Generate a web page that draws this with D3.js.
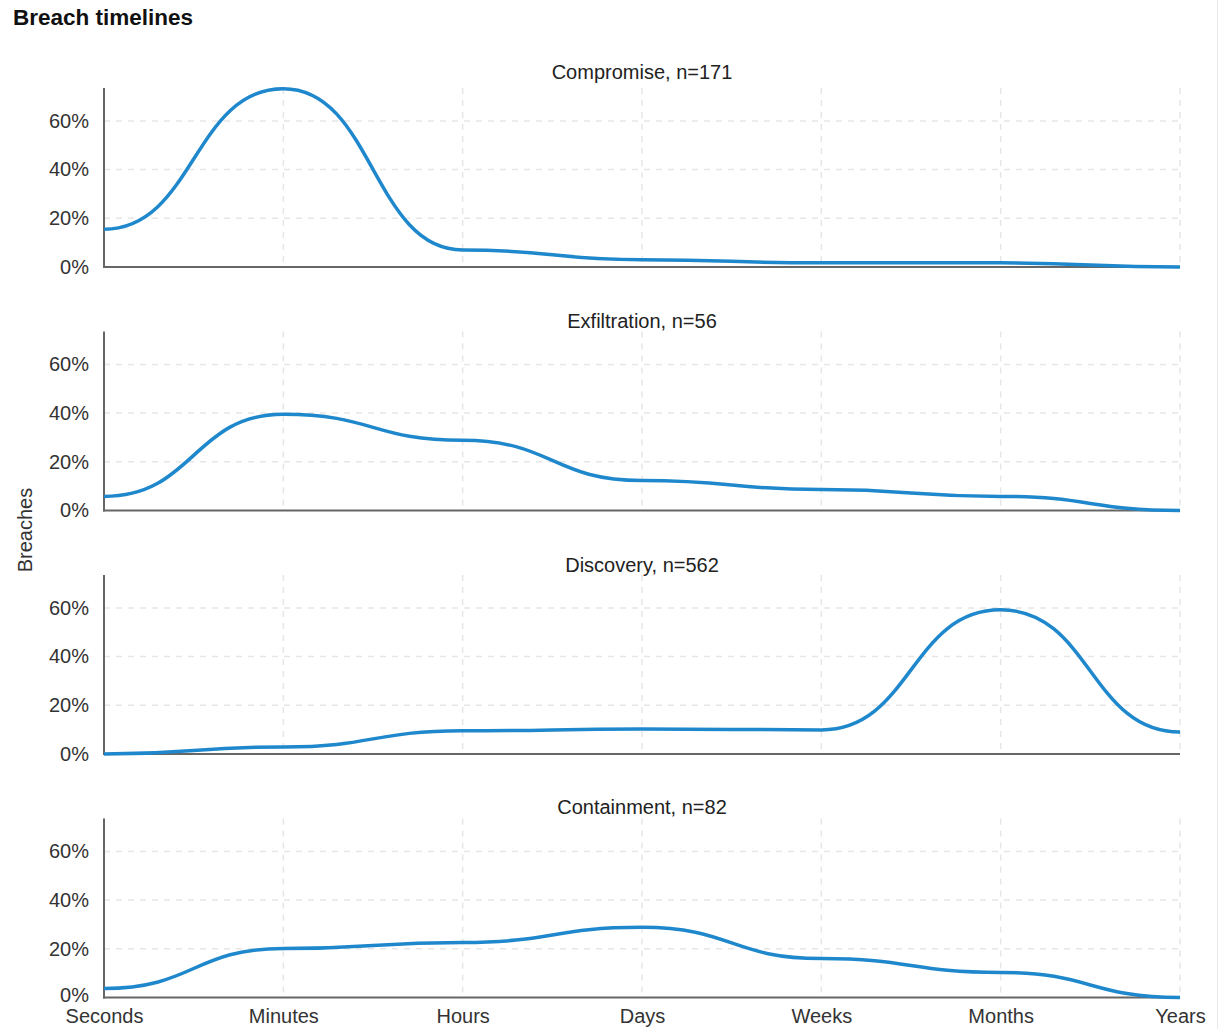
<!DOCTYPE html>
<html><head><meta charset="utf-8">
<script src="https://cdn.jsdelivr.net/npm/d3@7"></script>
<style>body{margin:0;background:#fff}svg{display:block;font-family:"Liberation Sans",Arial,sans-serif}</style>
</head><body><svg id="c" width="1219" height="1029"></svg>
<script>
const categories = ["Seconds","Minutes","Hours","Days","Weeks","Months","Years"];
const panelTitles = ["Compromise, n=171","Exfiltration, n=56","Discovery, n=562","Containment, n=82"];
const compromise   = [0.155, 0.732, 0.07, 0.03, 0.017, 0.017, 0.0];
const exfiltration = [0.058, 0.395, 0.288, 0.123, 0.086, 0.058, 0.0];
const discovery    = [0.0, 0.029, 0.095, 0.103, 0.099, 0.592, 0.09];
const containment  = [0.037, 0.201, 0.226, 0.288, 0.16, 0.103, 0.0];
const yTicks = [0, 0.2, 0.4, 0.6];
const seriesList = [compromise, exfiltration, discovery, containment];

const svg = d3.select("#c");
const left = 104, right = 1180;
const x = d3.scalePoint().domain(categories).range([left, right]);
const panelH = 179, panelStep = 243.5, firstTop = 88;
const titleOffsets = [9, 3.5, 3, 4.5];
const FS = 20;

svg.append("text").attr("x",13).attr("y",25).attr("font-size",22.5).attr("font-weight","bold")
  .attr("fill","#111").text("Breach timelines");

svg.append("text").attr("transform","translate(32,530) rotate(-90)").attr("text-anchor","middle")
  .attr("font-size",FS).attr("fill","#333").text("Breaches");

svg.append("line").attr("x1",1217.5).attr("x2",1217.5).attr("y1",0).attr("y2",1029)
  .attr("stroke","#e8e8e8").attr("stroke-width",1);

seriesList.forEach((vals, i) => {
  const top = firstTop + i*panelStep, bottom = top + panelH;
  const y = d3.scaleLinear().domain([0, 0.735]).range([bottom, top]);
  const g = svg.append("g");
  g.selectAll(".hg").data(yTicks.filter(d=>d>0)).join("line")
    .attr("x1",left).attr("x2",right).attr("y1",d=>y(d)).attr("y2",d=>y(d))
    .attr("stroke","#e6e6e6").attr("stroke-width",1.5).attr("stroke-dasharray","6,6");
  g.selectAll(".vg").data(categories.slice(1)).join("line")
    .attr("x1",d=>x(d)).attr("x2",d=>x(d)).attr("y1",top).attr("y2",bottom)
    .attr("stroke","#e6e6e6").attr("stroke-width",1.5).attr("stroke-dasharray","6,6");
  const ya = d3.axisLeft(y).tickValues(yTicks).tickFormat(d3.format(".0%")).tickSize(0).tickPadding(15);
  const yg = g.append("g").attr("transform",`translate(${left},0)`).call(ya);
  yg.select(".domain").remove();
  yg.selectAll("text").attr("font-size",FS).attr("fill","#333").attr("font-family","Liberation Sans, Arial, sans-serif");
  if (i === seriesList.length-1) {
    yg.selectAll(".tick").filter(d=>d===0).select("text").attr("y",-2);
  }
  g.append("line").attr("x1",left).attr("x2",left).attr("y1",top).attr("y2",bottom+1)
    .attr("stroke","#666").attr("stroke-width",2);
  g.append("line").attr("x1",left-1).attr("x2",right).attr("y1",bottom).attr("y2",bottom)
    .attr("stroke","#666").attr("stroke-width",2);
  g.append("text").attr("x",(left+right)/2).attr("y",top-titleOffsets[i]).attr("text-anchor","middle")
    .attr("font-size",FS).attr("fill","#222").text(panelTitles[i]);
  const line = d3.line().x((d,j)=>x(categories[j])).y(d=>y(d)).curve(d3.curveBumpX);
  g.append("path").datum(vals).attr("d",line).attr("fill","none")
    .attr("stroke","#1f88cc").attr("stroke-width",3.5);
  if (i === seriesList.length-1) {
    const xa = d3.axisBottom(x).tickSize(0).tickPadding(11);
    const xg = g.append("g").attr("transform",`translate(0,${bottom})`).call(xa);
    xg.select(".domain").remove();
    xg.selectAll("text").attr("font-size",FS).attr("fill","#333").attr("font-family","Liberation Sans, Arial, sans-serif");
  }
});
</script></body></html>
